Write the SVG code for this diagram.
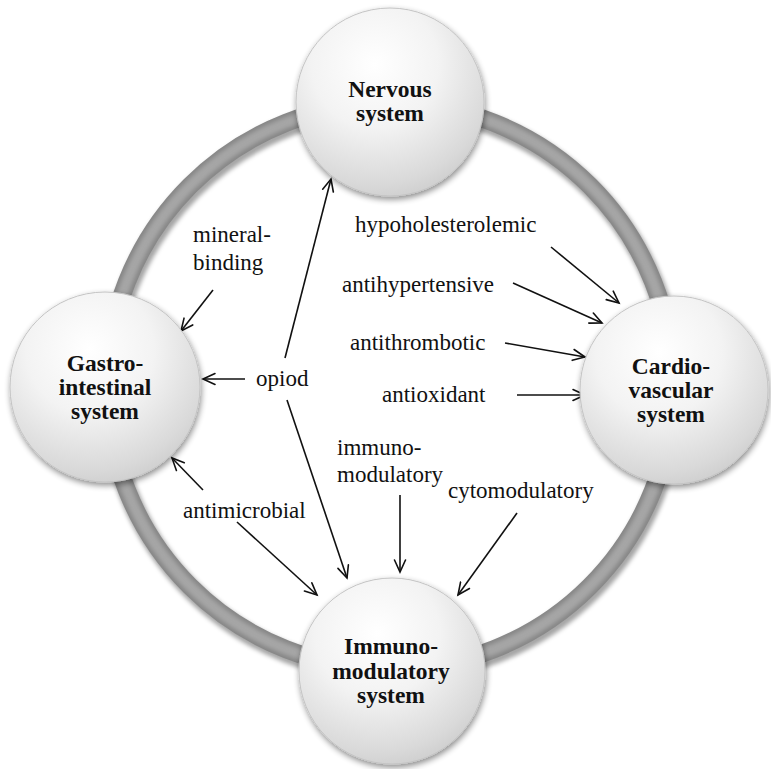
<svg xmlns="http://www.w3.org/2000/svg" width="771" height="769" viewBox="0 0 771 769">
  <defs>
    <radialGradient id="ball" cx="0.42" cy="0.3" r="0.75">
      <stop offset="0" stop-color="#ffffff"/>
      <stop offset="0.45" stop-color="#f3f3f3"/>
      <stop offset="0.85" stop-color="#d9d9d9"/>
      <stop offset="1" stop-color="#cccccc"/>
    </radialGradient>
    <filter id="shadow" x="-20%" y="-20%" width="140%" height="140%">
      <feGaussianBlur in="SourceAlpha" stdDeviation="3"/>
      <feOffset dx="1" dy="3" result="b"/>
      <feComponentTransfer><feFuncA type="linear" slope="0.45"/></feComponentTransfer>
      <feMerge><feMergeNode/><feMergeNode in="SourceGraphic"/></feMerge>
    </filter>
    <filter id="soft" x="-10%" y="-10%" width="120%" height="120%">
      <feGaussianBlur stdDeviation="2"/>
    </filter>
    <marker id="arr" markerUnits="userSpaceOnUse" markerWidth="16" markerHeight="16" refX="13" refY="6" orient="auto" viewBox="0 0 16 12">
      <path d="M1,0.5 L13,6 L1,11.5" fill="none" stroke="#111" stroke-width="1.6" stroke-linecap="round" stroke-linejoin="miter"/>
    </marker>
  </defs>
  <style>
    text { font-family: 'Liberation Serif', 'DejaVu Serif', serif; }
    .lbl { font-size: 23px; fill: #111; }
    .ttl { font-size: 23.5px; font-weight: bold; fill: #111; text-anchor: middle; }
    .con { stroke: #111; stroke-width: 1.6; fill: none; marker-end: url(#arr); }
    .node circle { fill: url(#ball); stroke: #c4c4c4; stroke-width: 1; filter: url(#shadow); }
  </style>
  <rect width="771" height="769" fill="#ffffff"/>

  <g id="ring">
    <circle cx="391" cy="388" r="283" fill="none" stroke="#000" stroke-opacity="0.35" stroke-width="20" filter="url(#soft)" transform="translate(1,2)"/>
    <circle cx="390" cy="386" r="283" fill="none" stroke="#868686" stroke-width="18"/>
    <circle cx="390" cy="386" r="283" fill="none" stroke="#a6a6a6" stroke-width="11" filter="url(#soft)"/>
  </g>

  <g id="connectors">
    <line class="con" x1="213" y1="290" x2="181" y2="331"/>
    <line class="con" x1="245" y1="379" x2="203" y2="379"/>
    <line class="con" x1="285" y1="358" x2="331" y2="179"/>
    <line class="con" x1="287" y1="400" x2="347" y2="578"/>
    <line class="con" x1="551" y1="247" x2="619" y2="303"/>
    <line class="con" x1="513" y1="283" x2="602" y2="323"/>
    <line class="con" x1="505" y1="343" x2="585" y2="357"/>
    <line class="con" x1="517" y1="395" x2="585" y2="395"/>
    <line class="con" x1="203" y1="490" x2="172" y2="458"/>
    <line class="con" x1="237" y1="522" x2="317" y2="595"/>
    <line class="con" x1="400" y1="495" x2="400" y2="572"/>
    <line class="con" x1="517" y1="513" x2="458" y2="595"/>
  </g>

  <g id="nervous" class="node" font-family="'Liberation Serif', serif">
    <circle cx="390" cy="102" r="94"/>
    <text class="ttl" x="390" y="97">Nervous</text>
    <text class="ttl" x="390" y="121">system</text>
  </g>
  <g id="gastro" class="node" font-family="'Liberation Serif', serif">
    <circle cx="105" cy="387" r="95"/>
    <text class="ttl" x="105" y="371">Gastro-</text>
    <text class="ttl" x="105" y="395">intestinal</text>
    <text class="ttl" x="105" y="419">system</text>
  </g>
  <g id="cardio" class="node" font-family="'Liberation Serif', serif">
    <circle cx="674" cy="390" r="94"/>
    <text class="ttl" x="671" y="374">Cardio-</text>
    <text class="ttl" x="671" y="398">vascular</text>
    <text class="ttl" x="671" y="422">system</text>
  </g>
  <g id="immuno" class="node" font-family="'Liberation Serif', serif">
    <circle cx="392" cy="671" r="93"/>
    <text class="ttl" x="391" y="654">Immuno-</text>
    <text class="ttl" x="391" y="679">modulatory</text>
    <text class="ttl" x="391" y="703">system</text>
  </g>

  <g id="labels" font-family="'Liberation Serif', serif">
    <text class="lbl" x="193" y="242">mineral-</text>
    <text class="lbl" x="193" y="270">binding</text>
    <text class="lbl" x="355" y="232">hypoholesterolemic</text>
    <text class="lbl" x="342" y="292">antihypertensive</text>
    <text class="lbl" x="350" y="350">antithrombotic</text>
    <text class="lbl" x="382" y="402">antioxidant</text>
    <text class="lbl" x="256" y="386">opiod</text>
    <text class="lbl" x="337" y="455">immuno-</text>
    <text class="lbl" x="337" y="482">modulatory</text>
    <text class="lbl" x="448" y="498">cytomodulatory</text>
    <text class="lbl" x="183" y="518">antimicrobial</text>
  </g>
</svg>
